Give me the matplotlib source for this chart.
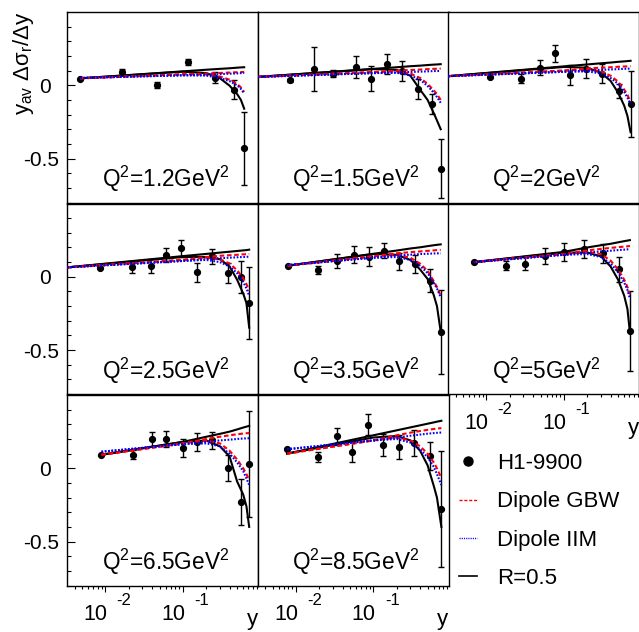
import matplotlib
matplotlib.use('Agg')
import matplotlib.pyplot as plt
import matplotlib.transforms as mtransforms
from matplotlib.lines import Line2D
from matplotlib.legend_handler import HandlerLine2D
from matplotlib.ticker import FixedLocator, FixedFormatter, LogLocator, NullFormatter

plt.rcParams['font.family'] = ['Liberation Sans', 'DejaVu Sans']
plt.rcParams['mathtext.fontset'] = 'custom'
plt.rcParams['mathtext.rm'] = 'Liberation Sans'
plt.rcParams['mathtext.it'] = 'Liberation Sans:italic'
plt.rcParams['mathtext.bf'] = 'Liberation Sans:bold'
plt.rcParams['axes.unicode_minus'] = False

q2_labels = ['1.2', '1.5', '2', '2.5', '3.5', '5', '6.5', '8.5']

# H1-9900 points
pt_x = [
    [0.0047, 0.0164, 0.0467, 0.118, 0.257, 0.453, 0.617],
    [0.0085, 0.017, 0.030, 0.059, 0.093, 0.148, 0.234, 0.375, 0.569, 0.738],
    [0.011, 0.0278, 0.049, 0.0776, 0.121, 0.19, 0.31, 0.51, 0.724],
    [0.00865, 0.0219, 0.0387, 0.0605, 0.0957, 0.151, 0.239, 0.378, 0.558, 0.716],
    [0.0078, 0.0194, 0.0343, 0.0558, 0.0883, 0.138, 0.216, 0.343, 0.537, 0.738],
    [0.0069, 0.0179, 0.0316, 0.0575, 0.101, 0.184, 0.316, 0.51, 0.71],
    [0.0089, 0.0226, 0.0398, 0.0605, 0.0995, 0.153, 0.24, 0.386, 0.558, 0.716],
    [0.0077, 0.0192, 0.0336, 0.0531, 0.0841, 0.134, 0.212, 0.336, 0.531, 0.753],
]
pt_y = [
    [0.043, 0.089, 0.0, 0.16, 0.053, -0.03, -0.43],
    [0.034, 0.11, 0.08, 0.123, 0.046, 0.144, 0.096, -0.027, -0.128, -0.57],
    [0.057, 0.046, 0.121, 0.217, 0.068, 0.114, 0.08, -0.039, -0.13],
    [0.059, 0.064, 0.075, 0.148, 0.194, 0.03, 0.139, 0.025, 0.0, -0.18],
    [0.073, 0.046, 0.11, 0.151, 0.137, 0.178, 0.105, 0.087, -0.027, -0.377],
    [0.1, 0.075, 0.09, 0.14, 0.17, 0.19, 0.16, 0.05, -0.37],
    [0.092, 0.092, 0.2, 0.2, 0.14, 0.18, 0.19, 0.0, -0.23, 0.03],
    [0.13, 0.08, 0.217, 0.114, 0.297, 0.16, 0.144, 0.175, 0.084, -0.279],
]
pt_err = [
    [0.0, 0.02, 0.02, 0.02, 0.04, 0.065, 0.25],
    [0.01, 0.15, 0.025, 0.074, 0.085, 0.067, 0.068, 0.068, 0.066, 0.2],
    [0.0, 0.03, 0.053, 0.06, 0.068, 0.065, 0.063, 0.05, 0.225],
    [0.0, 0.036, 0.048, 0.05, 0.06, 0.066, 0.05, 0.068, 0.11, 0.245],
    [0.0, 0.03, 0.048, 0.056, 0.063, 0.05, 0.06, 0.063, 0.08, 0.285],
    [0.0, 0.03, 0.045, 0.055, 0.06, 0.06, 0.065, 0.085, 0.27],
    [0.0, 0.03, 0.05, 0.055, 0.06, 0.06, 0.06, 0.09, 0.16, 0.36],
    [0.0, 0.034, 0.06, 0.07, 0.072, 0.075, 0.08, 0.089, 0.097, 0.396],
]

# model curves, sampled at curve_x
curve_x = [
    [0.0047, 0.1, 0.2, 0.3, 0.4, 0.5, 0.56, 0.617],
    [0.0032, 0.1, 0.2, 0.3, 0.4, 0.5, 0.6, 0.66, 0.738],
    [0.0032, 0.1, 0.2, 0.3, 0.4, 0.5, 0.6, 0.66, 0.724],
    [0.0032, 0.1, 0.2, 0.3, 0.4, 0.5, 0.6, 0.66, 0.716],
    [0.0078, 0.1, 0.2, 0.3, 0.4, 0.5, 0.6, 0.66, 0.738],
    [0.0069, 0.1, 0.2, 0.3, 0.4, 0.5, 0.6, 0.66, 0.71],
    [0.0089, 0.1, 0.2, 0.3, 0.4, 0.5, 0.6, 0.66, 0.716],
    [0.0077, 0.1, 0.2, 0.3, 0.4, 0.5, 0.6, 0.66, 0.753],
]
r05_flat = [
    [0.047, 0.095, 0.106, 0.112, 0.116, 0.12, 0.122, 0.123],
    [0.057, 0.112, 0.123, 0.13, 0.134, 0.138, 0.141, 0.142, 0.144],
    [0.062, 0.129, 0.142, 0.15, 0.155, 0.16, 0.163, 0.165, 0.167],
    [0.064, 0.141, 0.156, 0.165, 0.171, 0.176, 0.18, 0.182, 0.185],
    [0.075, 0.157, 0.179, 0.193, 0.201, 0.209, 0.215, 0.218, 0.221],
    [0.1, 0.17, 0.2, 0.215, 0.225, 0.235, 0.243, 0.247, 0.25],
    [0.092, 0.18, 0.215, 0.235, 0.25, 0.265, 0.278, 0.284, 0.29],
    [0.1, 0.225, 0.259, 0.279, 0.293, 0.304, 0.313, 0.318, 0.324],
]
r05_turn = [
    [0.047, 0.093, 0.083, 0.048, -0.003, -0.06, -0.1, -0.16],
    [0.057, 0.11, 0.105, 0.065, -0.03, -0.1, -0.19, -0.24, -0.3],
    [0.062, 0.125, 0.12, 0.085, 0.03, -0.05, -0.14, -0.21, -0.32],
    [0.064, 0.135, 0.135, 0.12, 0.07, -0.02, -0.115, -0.18, -0.347],
    [0.075, 0.155, 0.15, 0.115, 0.05, -0.015, -0.125, -0.2, -0.374],
    [0.1, 0.165, 0.165, 0.14, 0.07, -0.02, -0.13, -0.22, -0.38],
    [0.092, 0.18, 0.19, 0.15, 0.08, -0.09, -0.18, -0.26, -0.4],
    [0.1, 0.21, 0.22, 0.19, 0.12, 0.02, -0.12, -0.2, -0.4],
]
gbw_flat = [
    [0.047, 0.075, 0.08, 0.084, 0.087, 0.089, 0.09, 0.091],
    [0.057, 0.09, 0.1, 0.104, 0.107, 0.11, 0.112, 0.113, 0.114],
    [0.062, 0.1, 0.115, 0.12, 0.123, 0.126, 0.128, 0.129, 0.13],
    [0.064, 0.115, 0.135, 0.143, 0.147, 0.15, 0.153, 0.154, 0.155],
    [0.075, 0.14, 0.16, 0.168, 0.173, 0.177, 0.18, 0.182, 0.183],
    [0.1, 0.155, 0.18, 0.19, 0.197, 0.202, 0.206, 0.208, 0.21],
    [0.092, 0.17, 0.2, 0.215, 0.225, 0.232, 0.237, 0.239, 0.24],
    [0.1, 0.19, 0.225, 0.243, 0.254, 0.262, 0.268, 0.271, 0.274],
]
gbw_turn = [
    [0.047, 0.075, 0.074, 0.06, 0.038, 0.01, -0.015, -0.046],
    [0.057, 0.09, 0.095, 0.08, 0.05, 0.01, -0.035, -0.06, -0.1],
    [0.062, 0.1, 0.11, 0.095, 0.065, 0.025, -0.03, -0.065, -0.114],
    [0.064, 0.115, 0.13, 0.12, 0.09, 0.045, -0.01, -0.05, -0.096],
    [0.075, 0.14, 0.15, 0.13, 0.09, 0.04, -0.03, -0.07, -0.13],
    [0.1, 0.155, 0.17, 0.155, 0.11, 0.05, -0.02, -0.07, -0.12],
    [0.092, 0.17, 0.19, 0.17, 0.12, 0.06, 0.0, -0.04, -0.08],
    [0.1, 0.19, 0.21, 0.19, 0.15, 0.1, 0.04, 0.0, -0.068],
]
iim_flat = [
    [0.05, 0.068, 0.072, 0.076, 0.079, 0.081, 0.083, 0.084],
    [0.057, 0.083, 0.088, 0.091, 0.093, 0.095, 0.097, 0.097, 0.098],
    [0.062, 0.092, 0.1, 0.105, 0.108, 0.11, 0.112, 0.113, 0.114],
    [0.064, 0.108, 0.12, 0.127, 0.13, 0.133, 0.135, 0.136, 0.137],
    [0.08, 0.13, 0.145, 0.151, 0.155, 0.157, 0.159, 0.16, 0.16],
    [0.1, 0.15, 0.165, 0.173, 0.178, 0.182, 0.185, 0.187, 0.188],
    [0.113, 0.165, 0.18, 0.19, 0.195, 0.2, 0.203, 0.204, 0.205],
    [0.13, 0.19, 0.21, 0.222, 0.23, 0.236, 0.24, 0.242, 0.244],
]
iim_turn = [
    [0.05, 0.068, 0.066, 0.05, 0.028, 0.0, -0.025, -0.057],
    [0.057, 0.083, 0.085, 0.068, 0.038, -0.005, -0.05, -0.08, -0.12],
    [0.062, 0.092, 0.095, 0.08, 0.05, 0.01, -0.045, -0.085, -0.13],
    [0.064, 0.108, 0.115, 0.1, 0.07, 0.025, -0.035, -0.08, -0.13],
    [0.08, 0.13, 0.135, 0.115, 0.075, 0.025, -0.04, -0.08, -0.14],
    [0.1, 0.15, 0.155, 0.135, 0.09, 0.03, -0.04, -0.09, -0.15],
    [0.113, 0.165, 0.17, 0.15, 0.1, 0.04, -0.02, -0.07, -0.115],
    [0.13, 0.19, 0.2, 0.175, 0.13, 0.075, 0.01, -0.04, -0.114],
]

x_major = [0.01, 0.1]
x_exponents = ['-2', '-1']
legend_labels = ['H1-9900', 'Dipole GBW', 'Dipole IIM', 'R=0.5']


class DotAtRight(HandlerLine2D):
    # legend marker sits at the right end of the handle box, like ROOT's TLegend
    def get_xdata(self, legend, xdescent, ydescent, width, height, fontsize):
        xdata, _ = super().get_xdata(legend, xdescent, ydescent, width, height, fontsize)
        return xdata, [-xdescent + 0.95 * width]


W, H = 639, 632
fig = plt.figure(figsize=(W / 100, H / 100), dpi=100)

col_left = [67, 257.5, 448]
row_top = [12, 203.5, 395]
pw, ph = 191, 190.5

red_dash = (0, (2.2, 1.3))
blue_dot = (0, (0.8, 0.8))

axes = []
for i in range(8):
    r, c = divmod(i, 3)
    ax = fig.add_axes([col_left[c] / W, 1 - (row_top[r] + ph) / H, pw / W, ph / H])
    axes.append(ax)
    ax.set_xscale('log')
    ax.set_xlim(0.0032, 0.93)
    ax.set_ylim(-0.8, 0.5)

    ax.errorbar(pt_x[i], pt_y[i], yerr=pt_err[i], fmt='o', color='k', ms=4.2,
                elinewidth=1, capsize=2.2, capthick=1, zorder=2)
    ax.plot(curve_x[i], r05_flat[i], color='k', lw=1.5, zorder=3)
    ax.plot(curve_x[i], r05_turn[i], color='k', lw=1.5, zorder=3)
    ax.plot(curve_x[i], gbw_flat[i], color='red', lw=1.5, ls=red_dash, zorder=4)
    ax.plot(curve_x[i], gbw_turn[i], color='red', lw=1.5, ls=red_dash, zorder=4)
    ax.plot(curve_x[i], iim_flat[i], color='blue', lw=1.5, ls=blue_dot, zorder=5)
    ax.plot(curve_x[i], iim_turn[i], color='blue', lw=1.5, ls=blue_dot, zorder=5)

    ax.text(0.515, 0.08, r'Q$^2$=' + q2_labels[i] + r'GeV$^2$', transform=ax.transAxes,
            ha='center', va='baseline', fontsize=16.3)

    for sp in ax.spines.values():
        sp.set_linewidth(1.0)

    # x ticks point out of the pad (ROOT style), labels drawn as 10 + raised exponent
    ax.xaxis.set_major_locator(FixedLocator(x_major))
    ax.xaxis.set_major_formatter(NullFormatter())
    ax.xaxis.set_minor_locator(LogLocator(base=10, subs=range(2, 10), numticks=20))
    ax.xaxis.set_minor_formatter(NullFormatter())
    ax.tick_params(axis='x', which='major', direction='out', length=4.5, width=0.8, top=False)
    ax.tick_params(axis='x', which='minor', direction='out', length=2.5, width=0.8, top=False)
    if r == 2 or i == 5:
        for xv, ex in zip(x_major, x_exponents):
            ax.annotate('10', xy=(xv, 0), xycoords=('data', 'axes fraction'),
                        xytext=(-7, -25.2), textcoords='offset points',
                        ha='center', va='baseline', fontsize=15.5)
            ax.annotate(ex, xy=(xv, 0), xycoords=('data', 'axes fraction'),
                        xytext=(13.5, -14.2), textcoords='offset points',
                        ha='center', va='baseline', fontsize=12)
        ax.annotate('y', xy=(1, 0), xycoords='axes fraction', xytext=(0, -28.5),
                    textcoords='offset points', ha='right', va='baseline', fontsize=16)

    if c == 0:
        ax.yaxis.set_major_locator(FixedLocator([-0.5, 0.0]))
        ax.yaxis.set_major_formatter(FixedFormatter(['-0.5', '0']))
        ax.yaxis.set_minor_locator(FixedLocator([-0.8, -0.7, -0.6, -0.4, -0.3, -0.2,
                                                 -0.1, 0.1, 0.2, 0.3, 0.4]))
        ax.tick_params(axis='y', which='major', direction='in', length=6, width=0.8,
                       labelsize=15, pad=6, right=False)
        ax.tick_params(axis='y', which='minor', direction='in', length=3, width=0.8,
                       right=False)
    else:
        ax.tick_params(axis='y', which='both', left=False, right=False, labelleft=False)

fig.text(23 / W, 1 - 12 / H, r'y$_{\mathregular{av}}$ Δσ$_{\mathregular{r}}$/Δy',
         rotation=90, ha='center', va='top', fontsize=16)

h_data = Line2D([], [], marker='o', ls='none', color='k', ms=6.5)
handles = [
    h_data,
    Line2D([], [], color='red', lw=1, ls=red_dash),
    Line2D([], [], color='blue', lw=1, ls=blue_dot),
    Line2D([], [], color='k', lw=1.2),
]
fig.legend(handles, legend_labels, loc='upper left', bbox_to_anchor=(459 / W, 1 - 453 / H),
           frameon=False, fontsize=16, handlelength=0.8, handletextpad=0.9,
           labelspacing=0.78, borderpad=0, borderaxespad=0,
           handler_map={h_data: DotAtRight(numpoints=1)})

# ROOT puts the "0" label a bit further from the axis than "-0.5"
fig.canvas.draw()
shift = mtransforms.ScaledTranslation(-0.08, 0, fig.dpi_scale_trans)
for k in (0, 3, 6):
    for t in axes[k].yaxis.get_major_ticks():
        if abs(t.get_loc()) < 1e-9:
            t.label1.set_transform(t.label1.get_transform() + shift)

fig.savefig('out.png', dpi=100)
